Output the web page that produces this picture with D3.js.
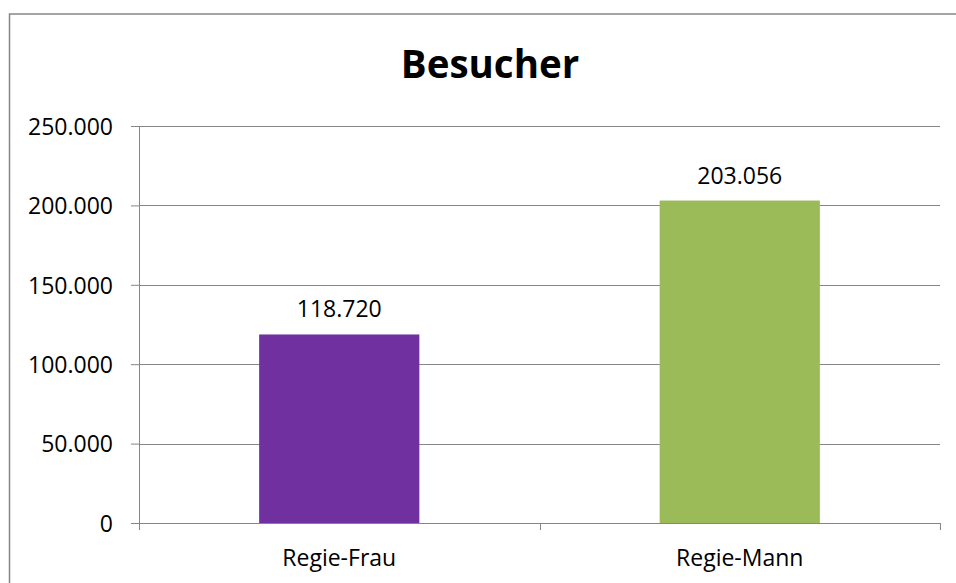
<!DOCTYPE html>
<html>
<head>
<meta charset="utf-8">
<script src="https://cdn.jsdelivr.net/npm/d3@7"></script>
<style>
  body { margin: 0; background: #fff; overflow: hidden; }
  svg { display: block; }
  svg text { font-family: "Open Sans", sans-serif; fill: #000; }
</style>
</head>
<body>
<div id="chart"></div>
<script>
// chart data
var categories = ["Regie-Frau", "Regie-Mann"];
var besucher = [118720, 203056];
var barColors = ["#7030A0", "#9BBB59"];
var yTicks = [0, 50000, 100000, 150000, 200000, 250000];

var width = 956, height = 583;
var margin = {top: 126, right: 16, bottom: 60, left: 139};

var svg = d3.select("#chart").append("svg")
    .attr("width", width)
    .attr("height", height);

// outer chart border, only top and left show, the rest is cut off
svg.append("path")
    .attr("d", "M" + width + ",14H9.5V" + height)
    .attr("fill", "none")
    .attr("stroke", "#868686")
    .attr("stroke-width", 1.5);

svg.append("text")
    .attr("x", 490)
    .attr("y", 78)
    .attr("text-anchor", "middle")
    .style("font-weight", "bold")
    .style("font-size", "38.5px")
    .text("Besucher");

var plotW = width - margin.left - margin.right;
var plotH = 523 - margin.top;

var g = svg.append("g")
    .attr("transform", "translate(" + margin.left + "," + margin.top + ")");

var x = d3.scaleBand()
    .domain(categories)
    .range([0, plotW])
    .paddingInner(0.6)
    .paddingOuter(0.3);

var y = d3.scaleLinear()
    .domain([0, 250000])
    .range([plotH, 0]);

var fmt = function(v) { return d3.format(",")(v).replace(/,/g, "."); };

// gridlines
g.selectAll(".grid")
    .data(yTicks.slice(1))
    .enter().append("line")
    .attr("x1", 0)
    .attr("x2", plotW)
    .attr("y1", function(d) { return Math.round(y(d)) + 0.5; })
    .attr("y2", function(d) { return Math.round(y(d)) + 0.5; })
    .attr("stroke", "#868686")
    .attr("stroke-width", 1);

// y axis
var yAxis = d3.axisLeft(y)
    .tickValues(yTicks)
    .tickSize(8)
    .tickPadding(18)
    .tickFormat(fmt);

var yg = g.append("g").call(yAxis);
yg.select(".domain").attr("stroke", "#868686");
yg.selectAll(".tick line").attr("stroke", "#868686");
yg.selectAll(".tick text")
    .style("font-size", "23px")
    .attr("dy", "0.36em");

// bars
g.selectAll(".bar")
    .data(besucher)
    .enter().append("rect")
    .attr("x", function(d, i) { return x(categories[i]); })
    .attr("y", function(d) { return y(d); })
    .attr("width", x.bandwidth())
    .attr("height", function(d) { return plotH - y(d); })
    .attr("fill", function(d, i) { return barColors[i]; });

// value labels
g.selectAll(".val")
    .data(besucher)
    .enter().append("text")
    .attr("x", function(d, i) { return x(categories[i]) + x.bandwidth() / 2; })
    .attr("y", function(d) { return y(d) - 17; })
    .attr("text-anchor", "middle")
    .style("font-size", "23px")
    .text(fmt);

// x axis
var xg = g.append("g")
    .attr("transform", "translate(0," + plotH + ")");

xg.append("line")
    .attr("x1", 0).attr("x2", plotW)
    .attr("y1", 0.5).attr("y2", 0.5)
    .attr("stroke", "#868686");

xg.selectAll(".xtick")
    .data([0, plotW / 2, plotW])
    .enter().append("line")
    .attr("x1", function(d) { return Math.round(d) + 0.5; })
    .attr("x2", function(d) { return Math.round(d) + 0.5; })
    .attr("y1", 0)
    .attr("y2", 7)
    .attr("stroke", "#868686");

xg.selectAll(".xlab")
    .data(categories)
    .enter().append("text")
    .attr("x", function(d) { return x(d) + x.bandwidth() / 2; })
    .attr("y", 43)
    .attr("text-anchor", "middle")
    .style("font-size", "23px")
    .text(function(d) { return d; });
</script>
</body>
</html>
